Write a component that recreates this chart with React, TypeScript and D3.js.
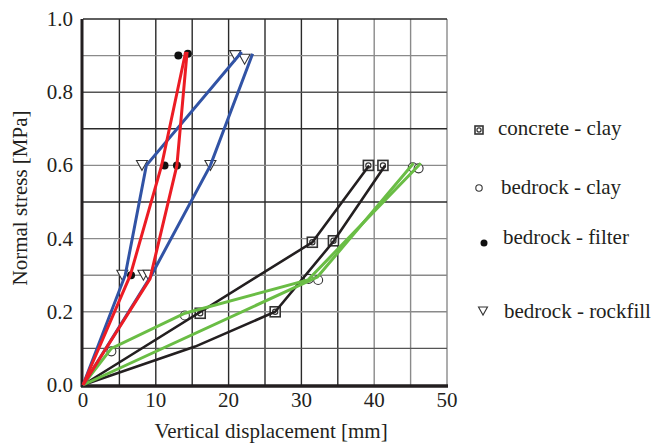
import React, { useEffect, useRef } from "react";
import * as d3 from "d3";

// [displacement mm, normal stress MPa]
type Pt = [number, number];

const xTicks = [0, 10, 20, 30, 40, 50];
const yTicks = [0, 0.2, 0.4, 0.6, 0.8, 1.0];

// lines
const rockfillLoad: Pt[] = [[0, 0], [5.8, 0.3], [8.7, 0.6], [21.8, 0.91]];
const rockfillUnload: Pt[] = [[0, 0], [9.4, 0.3], [17.5, 0.6], [23.3, 0.905]];
const filterLoad: Pt[] = [[0, 0], [6.5, 0.3], [10.8, 0.6], [14.1, 0.91]];
const filterUnload: Pt[] = [[0, 0], [9.2, 0.29], [12.9, 0.6], [14.3, 0.91]];
const concreteA: Pt[] = [[0, 0], [31.5, 0.39], [39.3, 0.6]];
const concreteB: Pt[] = [[0, 0], [15.4, 0.105], [26.4, 0.2], [34.4, 0.392], [41.5, 0.6]];
const clayA: Pt[] = [[0, 0], [3.9, 0.1], [14, 0.196], [30.9, 0.287], [46.4, 0.606]];
const clayB: Pt[] = [[0, 0], [32.2, 0.295], [45.4, 0.606]];

// markers
const rockfillPts: Pt[] = [[20.9, 0.9], [22.2, 0.89], [8.1, 0.6], [17.5, 0.6], [5.4, 0.3], [8.3, 0.3], [9.0, 0.3]];
const filterPts: Pt[] = [[13.1, 0.9], [14.4, 0.905], [11.2, 0.6], [12.9, 0.6], [6.6, 0.3]];
const concretePts: Pt[] = [[16.1, 0.196], [26.4, 0.2], [31.5, 0.39], [34.4, 0.394], [39.2, 0.6], [41.2, 0.6]];
const clayPts: Pt[] = [[3.9, 0.092], [14, 0.19], [31.0, 0.29], [32.3, 0.287], [45.3, 0.595], [46.1, 0.592]];

const legendLabels = ["concrete - clay", "bedrock - clay", "bedrock - filter", "bedrock - rockfill"];

const BLUE = "#3153a5";
const RED = "#ec1c24";
const GREEN = "#6abd45";
const BLACK = "#231f20";
const FONT = "Liberation Serif, Times New Roman, Times, DejaVu Serif, serif";

export default function App() {
  const svgRef = useRef<SVGSVGElement>(null);

  useEffect(() => {
    const svg = d3.select(svgRef.current);
    svg.selectAll("*").remove();

    const x = d3.scaleLinear().domain([0, 50]).range([83, 447]);
    const y = d3.scaleLinear().domain([0, 1]).range([385, 19]);

    // grid
    const grid = svg.append("g");
    const darkX = [5, 10, 15, 20, 25, 30, 35];
    d3.range(5, 55, 5).forEach((v) => {
      grid.append("line")
        .attr("x1", x(v)).attr("x2", x(v))
        .attr("y1", y(1)).attr("y2", y(0))
        .attr("stroke", darkX.includes(v) ? "#2a2a2a" : "#8a8a8a")
        .attr("stroke-width", 1.4);
    });
    const darkY = [1.0, 0.7, 0.5];
    const midY = [0.8, 0.1];
    d3.range(1, 11).map((i) => i / 10).forEach((v) => {
      const c = darkY.some((d) => Math.abs(d - v) < 1e-6) ? "#2a2a2a"
        : midY.some((d) => Math.abs(d - v) < 1e-6) ? "#555" : "#8a8a8a";
      grid.append("line")
        .attr("x1", x(0)).attr("x2", x(50))
        .attr("y1", y(v)).attr("y2", y(v))
        .attr("stroke", c)
        .attr("stroke-width", 1.4);
    });

    // axes
    svg.append("line")
      .attr("x1", x(0) - 1).attr("x2", x(0) - 1)
      .attr("y1", y(1)).attr("y2", y(0) + 2)
      .attr("stroke", BLACK).attr("stroke-width", 3);
    svg.append("line")
      .attr("x1", x(0) - 2).attr("x2", x(50) + 1)
      .attr("y1", y(0) + 1).attr("y2", y(0) + 1)
      .attr("stroke", BLACK).attr("stroke-width", 3.5);

    // tick labels
    svg.append("g").selectAll("text").data(xTicks).join("text")
      .attr("x", (d) => x(d))
      .attr("y", 407)
      .attr("text-anchor", "middle")
      .style("font-family", FONT)
      .style("font-size", "21px")
      .attr("fill", BLACK)
      .text((d) => d);
    svg.append("g").selectAll("text").data(yTicks).join("text")
      .attr("x", 73)
      .attr("y", (d) => y(d) + 7)
      .attr("text-anchor", "end")
      .style("font-family", FONT)
      .style("font-size", "21px")
      .attr("fill", BLACK)
      .text((d) => d.toFixed(1));

    // axis titles
    svg.append("text")
      .attr("x", 271).attr("y", 438)
      .attr("text-anchor", "middle")
      .style("font-family", FONT).style("font-size", "21px")
      .attr("fill", BLACK)
      .text("Vertical displacement [mm]");
    svg.append("text")
      .attr("transform", "translate(27,198) rotate(-90)")
      .attr("text-anchor", "middle")
      .style("font-family", FONT).style("font-size", "21px")
      .attr("fill", BLACK)
      .text("Normal stress [MPa]");

    // marker shapes
    const drawSquare = (g: d3.Selection<SVGGElement, unknown, null, undefined>, cx: number, cy: number, s: number) => {
      g.append("rect")
        .attr("x", cx - s / 2).attr("y", cy - s / 2)
        .attr("width", s).attr("height", s)
        .attr("fill", "#fff").attr("stroke", "#333").attr("stroke-width", 1.6);
      g.append("circle")
        .attr("cx", cx).attr("cy", cy).attr("r", s * 0.26)
        .attr("fill", "none").attr("stroke", "#333").attr("stroke-width", 1.2);
    };
    const drawCircle = (g: d3.Selection<SVGGElement, unknown, null, undefined>, cx: number, cy: number, r: number) => {
      g.append("circle")
        .attr("cx", cx).attr("cy", cy).attr("r", r)
        .attr("fill", "#fff").attr("stroke", "#333").attr("stroke-width", 1.1);
    };
    const drawDot = (g: d3.Selection<SVGGElement, unknown, null, undefined>, cx: number, cy: number, r: number) => {
      g.append("circle")
        .attr("cx", cx).attr("cy", cy).attr("r", r)
        .attr("fill", "#111");
    };
    const drawTri = (g: d3.Selection<SVGGElement, unknown, null, undefined>, cx: number, cy: number, s: number) => {
      const h = s * 0.9;
      g.append("path")
        .attr("d", `M${cx - s / 2},${cy - h / 2}L${cx + s / 2},${cy - h / 2}L${cx},${cy + h / 2}Z`)
        .attr("fill", "#fff").attr("stroke", "#333").attr("stroke-width", 1.1);
    };

    const markers = svg.append("g");
    rockfillPts.forEach((p) => drawTri(markers, x(p[0]), y(p[1]), 11));
    concretePts.forEach((p) => drawSquare(markers, x(p[0]), y(p[1]), 10));
    clayPts.forEach((p) => drawCircle(markers, x(p[0]), y(p[1]), 4.5));
    filterPts.forEach((p) => drawDot(markers, x(p[0]), y(p[1]), 4));

    // lines
    const line = d3.line<Pt>().x((d) => x(d[0])).y((d) => y(d[1]));
    const series: [Pt[], string, number][] = [
      [concreteA, BLACK, 2.6],
      [concreteB, BLACK, 2.6],
      [clayA, GREEN, 3],
      [clayB, GREEN, 3],
      [rockfillLoad, BLUE, 3],
      [rockfillUnload, BLUE, 3],
      [filterLoad, RED, 3],
      [filterUnload, RED, 3],
    ];
    const lines = svg.append("g");
    series.forEach(([data, color, w]) => {
      lines.append("path")
        .datum(data)
        .attr("d", line)
        .attr("fill", "none")
        .attr("stroke", color)
        .attr("stroke-width", w)
        .attr("stroke-linejoin", "miter");
    });

    // legend
    const legend = svg.append("g");
    const rows = [
      { x: 498, y: 128, mx: 479, my: 130 },
      { x: 501, y: 187, mx: 479, my: 188 },
      { x: 503, y: 237, mx: 484, my: 243 },
      { x: 504, y: 311, mx: 483, my: 311 },
    ];
    drawSquare(legend, rows[0].mx, rows[0].my, 8);
    drawCircle(legend, rows[1].mx, rows[1].my, 3.2);
    drawDot(legend, rows[2].mx, rows[2].my, 3.5);
    drawTri(legend, rows[3].mx, rows[3].my, 9);
    rows.forEach((r, i) => {
      legend.append("text")
        .attr("x", r.x).attr("y", r.y + 7)
        .style("font-family", FONT).style("font-size", "21px")
        .attr("fill", BLACK)
        .text(legendLabels[i]);
    });
  }, []);

  return (
    <div style={{ position: "fixed", left: 0, top: 0, background: "#fff" }}>
      <svg ref={svgRef} width={656} height={443} style={{ display: "block" }} />
    </div>
  );
}
